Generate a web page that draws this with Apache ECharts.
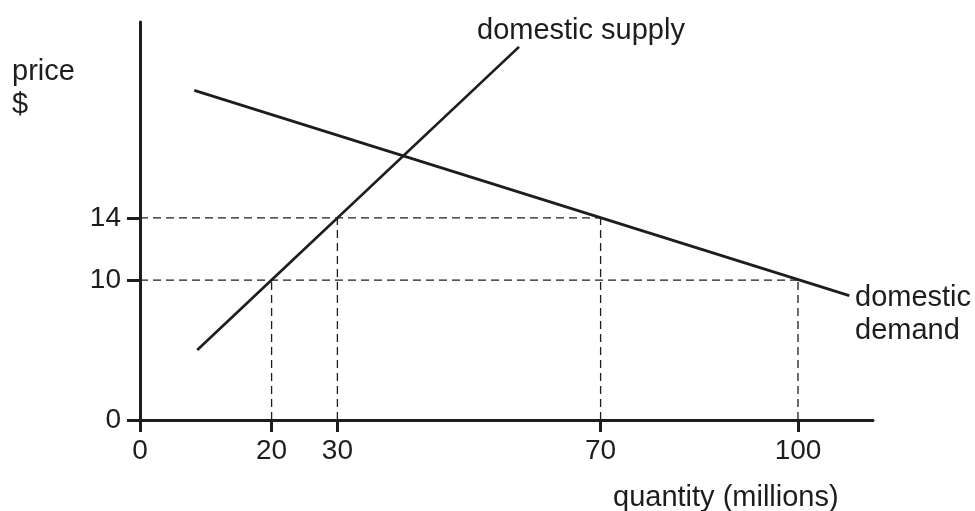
<!DOCTYPE html>
<html>
<head>
<meta charset="utf-8">
<script src="https://cdn.jsdelivr.net/npm/echarts@6/dist/echarts.min.js"></script>
<style>
html,body{margin:0;padding:0;background:#fff;}
#chart{width:975px;height:511px;}
</style>
</head>
<body>
<div id="chart"></div>
<script>
// ---- data ----
const quantityTicks = [0, 20, 30, 70, 100];
const priceTicks = [0, 10, 14];
const supplyLine = [[8.7, 5.5], [57.6, 25.0]];
const demandLine = [[8.25, 22.2], [107.8, 9.0]];
// points where dashed guide lines meet the curves: [quantity, price]
const guidePoints = [[20, 10], [30, 14], [70, 14], [100, 10]];
// the drawn price axis is not to scale below 10: its origin ("0") sits at this value
const priceOrigin = 1.0;
const quantityMax = 111.4;
const priceMax = 26.6;

const INK = '#1f1c1d';
const FONT = "'Liberation Sans', Arial, Helvetica, sans-serif";
const FS = 28;
const FS_TEXT = 29;

const chart = echarts.init(document.getElementById('chart'), null, {renderer: 'canvas'});

const series = [];
function lineSeries(data, dashed) {
  return {
    type: 'line', data: data, showSymbol: false, symbol: 'none', silent: true,
    clip: false, animation: false,
    lineStyle: dashed
      ? {color: INK, width: 1.3, type: [8, 5]}
      : {color: INK, width: 2.7}
  };
}
// horizontal guides: one per price level, to the largest quantity
const levelMax = {};
guidePoints.forEach(([q, p]) => { levelMax[p] = Math.max(levelMax[p] || 0, q); });
Object.keys(levelMax).forEach(p => {
  series.push(lineSeries([[0, +p], [levelMax[p], +p]], true));
});
// vertical guides
guidePoints.forEach(([q, p]) => {
  series.push(lineSeries([[q, priceOrigin], [q, p]], true));
});
series.push(lineSeries(supplyLine, false));
series.push(lineSeries(demandLine, false));

const tickYValues = priceTicks.map(v => v === 0 ? priceOrigin : v);

function txt(text, x, y) {
  return {
    type: 'text', left: x, top: y, silent: true,
    style: {text: text, fill: INK, font: FS_TEXT + 'px ' + FONT}
  };
}

chart.setOption({
  animation: false,
  backgroundColor: '#fff',
  grid: {left: 140, right: 102, top: 22, bottom: 91, containLabel: false},
  xAxis: {
    type: 'value', min: 0, max: quantityMax,
    splitLine: {show: false},
    axisLine: {onZero: false, lineStyle: {color: INK, width: 3}},
    axisTick: {show: true, customValues: quantityTicks, length: 12, lineStyle: {color: INK, width: 3}},
    axisLabel: {customValues: quantityTicks, color: INK, fontSize: FS, fontFamily: FONT, margin: 17,
      formatter: v => String(v)}
  },
  yAxis: {
    type: 'value', min: priceOrigin, max: priceMax,
    splitLine: {show: false},
    axisLine: {show: true, onZero: false, lineStyle: {color: INK, width: 3}},
    axisTick: {show: true, customValues: tickYValues, length: 13, lineStyle: {color: INK, width: 3}},
    axisLabel: {customValues: tickYValues, color: INK, fontSize: FS, fontFamily: FONT, margin: 19,
      formatter: v => (v === priceOrigin ? '0' : String(v))}
  },
  graphic: [
    txt('price', 12, 57),
    txt('$', 12, 90),
    txt('domestic supply', 477, 16),
    txt('domestic', 855, 283),
    txt('demand', 855, 316),
    txt('quantity (millions)', 613, 483)
  ],
  series: series
});
</script>
</body>
</html>
